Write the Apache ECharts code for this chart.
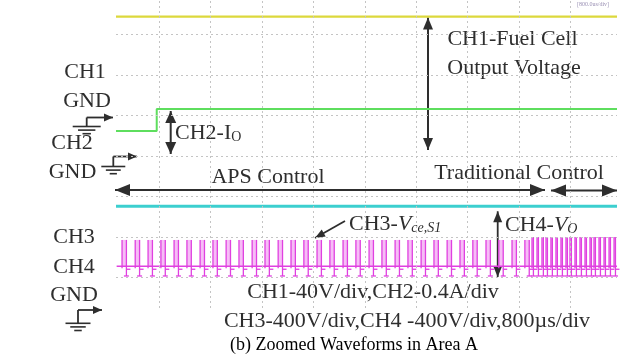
<!DOCTYPE html>
<html>
<head>
<meta charset="utf-8">
<script src="https://cdn.jsdelivr.net/npm/echarts@6/dist/echarts.min.js"></script>
<style>
html,body{margin:0;padding:0;background:#fff}
#c{width:642px;height:363px}
</style>
</head>
<body>
<div id="c"></div>
<script>
// Time in µs (800 µs/div); amplitude in screen divisions from the centre line.
const TIME_RANGE = [-674, 7124];
const DIV_RANGE = [-3.75, 3.85];
const GRID_TIMES = [0, 800, 1600, 2400, 3200, 4000, 4800, 5600, 6400];
const GRID_DIVS = [-3, -2, -1, 0, 1, 2, 3];

// CH1 – fuel cell output voltage
const ch1Time = [-674, 7124];
const ch1Level = [3.44, 3.44];

// CH2 – output current, steps up at the load change
const ch2Time = [-674, -40, -40, 7124];
const ch2Level = [0.62, 0.62, 1.16, 1.16];

// CH4 – output voltage
const ch4Time = [-674, 7124];
const ch4Level = [-1.24, -1.24];

// CH3 – switch voltage: pulse start times (µs)
const ch3PulseAps = [-580, -375, -175, 25, 230, 430, 635, 835, 1040, 1240, 1445, 1645,
  1850, 2050, 2250, 2455, 2655, 2860, 3060, 3265, 3465, 3670, 3870, 4075, 4275, 4480,
  4680, 4880, 5085, 5285, 5490, 5690];
const ch3PulseTrad = [5801, 5879, 5956, 6019, 6096, 6174, 6252, 6330, 6392, 6470, 6548,
  6626, 6704, 6766, 6844, 6922, 7000, 7078];
const ch3Width = [68, 22];          // pulse width (µs): APS, traditional
const ch3High = [-2.07, -2.0];      // pulse top (div): APS, traditional
const ch3Base = -2.72;
const ch3Dip = -2.96;

const chart = echarts.init(document.getElementById('c'), null, {renderer: 'canvas'});

const zip = (a, b) => a.map((v, i) => [v, b[i]]);
const pulseData = ch3PulseAps.map(t => [t, ch3Width[0], ch3High[0]])
  .concat(ch3PulseTrad.map(t => [t, ch3Width[1], ch3High[1]]));

const dotted = {color: '#c4c4c4', width: 1, type: [2, 3]};

chart.setOption({
  animation: false,
  backgroundColor: '#ffffff',
  grid: {left: 116, right: 25, top: 0, bottom: 55},
  xAxis: {type: 'value', min: TIME_RANGE[0], max: TIME_RANGE[1], show: false, splitLine: {show: false}},
  yAxis: {type: 'value', min: DIV_RANGE[0], max: DIV_RANGE[1], show: false, splitLine: {show: false}},
  series: [
    {
      name: 'grid', type: 'line', data: [], silent: true,
      markLine: {
        silent: true, symbol: 'none', animation: false,
        label: {show: false}, lineStyle: dotted,
        emphasis: {disabled: true},
        data: GRID_TIMES.map(t => ({xAxis: t})).concat(GRID_DIVS.map(v => ({yAxis: v})))
      }
    },
    {
      name: 'CH1', type: 'line', data: zip(ch1Time, ch1Level), symbol: 'none',
      lineStyle: {color: '#dcd83c', width: 2.2}
    },
    {
      name: 'CH2', type: 'line', data: zip(ch2Time, ch2Level), symbol: 'none',
      lineStyle: {color: '#5ede5e', width: 2}
    },
    {
      name: 'CH4', type: 'line', data: zip(ch4Time, ch4Level), symbol: 'none',
      lineStyle: {color: '#3ccfcf', width: 3}
    },
    {
      name: 'CH3 base', type: 'line', data: [[TIME_RANGE[0] + 10, ch3Base], [TIME_RANGE[1], ch3Base]], symbol: 'none',
      lineStyle: {color: '#e040e0', width: 1.5}
    },
    {
      name: 'CH3', type: 'custom', data: pulseData,
      renderItem: function (params, api) {
        const t = api.value(0), w = api.value(1), hi = api.value(2);
        const pB = api.coord([t, ch3Base]);
        const pH = api.coord([t, hi]);
        const pE = api.coord([t + w, hi]);
        const pD = api.coord([t + w, ch3Dip]);
        const pR = api.coord([t + w, ch3Base]);
        const stroke = {stroke: '#e040e0', lineWidth: 1.3};
        return {
          type: 'group',
          children: [
            {type: 'rect', shape: {x: pH[0], y: pH[1], width: pE[0] - pH[0], height: pB[1] - pH[1]},
              style: {fill: '#f6bdf6'}},
            {type: 'line', shape: {x1: pB[0], y1: pB[1] + 2, x2: pH[0], y2: pH[1]}, style: stroke},
            {type: 'line', shape: {x1: pE[0], y1: pE[1], x2: pD[0], y2: pD[1]}, style: stroke},
            {type: 'line', shape: {x1: pD[0] - 2.5, y1: pD[1], x2: pD[0] + 2.5, y2: pD[1]}, style: stroke},
            {type: 'line', shape: {x1: pR[0], y1: pR[1] + 3, x2: pR[0] + 4, y2: pR[1] + 3}, style: stroke}
          ]
        };
      }
    }
  ]
});

// ---- annotations ----
const INK = '#2e2e2e';
const FONT = '"Liberation Serif", "Times New Roman", serif';

function head(tip, from, len, wid) {
  const dx = tip[0] - from[0], dy = tip[1] - from[1];
  const L = Math.hypot(dx, dy), ux = dx / L, uy = dy / L;
  const bx = tip[0] - ux * len, by = tip[1] - uy * len;
  return {type: 'polygon', silent: true,
    shape: {points: [tip, [bx - uy * wid / 2, by + ux * wid / 2], [bx + uy * wid / 2, by - ux * wid / 2]]},
    style: {fill: INK}};
}
function arrow(p1, p2, both, len, wid, lw) {
  const els = [{type: 'line', silent: true, shape: {x1: p1[0], y1: p1[1], x2: p2[0], y2: p2[1]},
    style: {stroke: INK, lineWidth: lw || 2}}];
  els.push(head(p2, p1, len, wid));
  if (both) els.push(head(p1, p2, len, wid));
  return els;
}
function ground(sx, ay, ax, stemBottom, w) {
  const els = arrow([sx, ay], [ax, ay], false, 9, 8, 1.8);
  els.push({type: 'line', silent: true, shape: {x1: sx, y1: ay, x2: sx, y2: stemBottom}, style: {stroke: INK, lineWidth: 1.8}});
  [1, 0.62, 0.3].forEach((f, i) => {
    const y = stemBottom + i * 3.6;
    els.push({type: 'line', silent: true, shape: {x1: sx - w * f / 2, y1: y, x2: sx + w * f / 2, y2: y},
      style: {stroke: INK, lineWidth: 1.6}});
  });
  return els;
}
function text(str, x, y, size, align, extra) {
  return Object.assign({type: 'text', silent: true, x: x, y: y,
    style: Object.assign({text: str, font: size + 'px ' + FONT, fill: INK,
      textAlign: align || 'center', textVerticalAlign: 'middle'}, extra || {})});
}

const px = (t, v) => chart.convertToPixel({gridIndex: 0}, [t, v]);
const yCh1 = px(0, ch1Level[0])[1];
const yCh2 = px(0, ch2Level[2])[1];
const yCh4 = px(0, ch4Level[0])[1];

const sub = {fontSize: 14, fontFamily: FONT, fill: INK, padding: [9, 0, 0, 0]};
const subI = Object.assign({}, sub, {fontStyle: 'italic'});
const els = [].concat(
  // left-hand channel markers
  text('CH1', 85, 72, 22),
  text('GND', 87, 101, 22),
  ground(86.7, 117.5, 113, 126.5, 28),
  text('CH2', 72, 143, 22),
  text('GND', 72.5, 172, 22),
  ground(113.3, 156.5, 137, 166.5, 24),
  text('CH3', 74, 237, 22),
  text('CH4', 74, 267, 22),
  text('GND', 74, 295, 22),
  ground(78, 310, 102, 323.3, 25),

  // CH1 magnitude
  arrow([428, yCh1 + 1], [428, 150], true, 12, 10, 2),
  text('CH1-Fuel Cell', 512.5, 39, 22),
  text('Output Voltage', 514, 68, 22),

  // CH2 magnitude
  arrow([170.7, yCh2 + 2], [170.7, 154], true, 12, 11, 2),
  {type: 'text', silent: true, x: 175, y: 133,
    style: {text: '{n|CH2-I}{s|O}', textAlign: 'left', textVerticalAlign: 'middle',
      rich: {n: {fontSize: 22, fontFamily: FONT, fill: INK}, s: sub}}},

  // control regions
  arrow([115, 190], [545, 190], true, 15, 12, 2),
  arrow([551, 190.5], [617, 190.5], true, 15, 12, 2),
  text('APS Control', 268, 177, 22),
  text('Traditional Control', 519, 173, 22),

  // CH3 / CH4 labels
  arrow([345, 221], [315, 238], false, 10, 8, 1.8),
  {type: 'text', silent: true, x: 349, y: 224,
    style: {text: '{n|CH3-}{v|V}{s|ce,S1}', textAlign: 'left', textVerticalAlign: 'middle',
      rich: {n: {fontSize: 22, fontFamily: FONT, fill: INK},
        v: {fontSize: 22, fontFamily: FONT, fill: INK, fontStyle: 'italic'}, s: subI}}},
  arrow([497.7, yCh4 + 5], [497.7, 277], true, 11, 9, 1.8),
  {type: 'text', silent: true, x: 505, y: 225,
    style: {text: '{n|CH4-}{v|V}{s|O}', textAlign: 'left', textVerticalAlign: 'middle',
      rich: {n: {fontSize: 22, fontFamily: FONT, fill: INK},
        v: {fontSize: 22, fontFamily: FONT, fill: INK, fontStyle: 'italic'}, s: subI}}},

  // scale notes and caption
  text('CH1-40V/div,CH2-0.4A/div', 373, 292, 22),
  text('CH3-400V/div,CH4 -400V/div,800µs/div', 407, 321, 22),
  text('(b) Zoomed Waveforms in Area A', 354, 345, 18, 'center', {fill: '#000'}),
  text('[800.0us/div]', 593, 4, 6, 'center', {fill: '#9a90b4'})
);

chart.setOption({graphic: {elements: els}});
</script>
</body>
</html>
